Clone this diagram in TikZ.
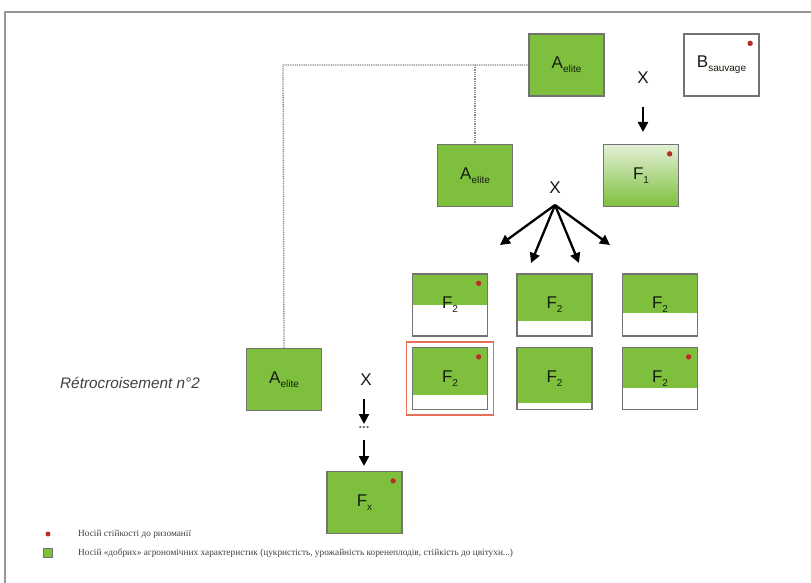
\documentclass[tikz,border=0pt]{standalone}
\usepackage{fontspec}
\setmainfont{Liberation Serif}
\newfontfamily\arial{Liberation Sans}
\usetikzlibrary{arrows.meta,calc,fit}
\definecolor{leaf}{RGB}{126,192,62}
\definecolor{leaflight}{RGB}{228,240,214}
\definecolor{dotred}{RGB}{185,45,40}
\definecolor{boxgray}{RGB}{115,115,115}
\definecolor{hilite}{RGB}{232,110,90}
\definecolor{txt}{RGB}{20,30,15}
\definecolor{framegray}{RGB}{150,150,150}
\definecolor{linkgray}{RGB}{140,140,140}
\newcommand{\lab}[2]{{\arial\fontsize{17}{17}\selectfont #1\raisebox{-4pt}{\fontsize{10}{10}\selectfont #2}}}
\newcommand{\rdot}[1]{\fill[dotred] ($(#1.north east)+(-9.5,10)$) circle (2.7pt);}
\begin{document}
\begin{tikzpicture}[x=1pt,y=-1pt,
  plant/.style={draw=boxgray,line width=1.3pt,minimum width=75pt,minimum height=62pt,inner sep=0pt,text=txt},
  greenbox/.style={plant,fill=leaf},
  whitebox/.style={plant,fill=white},
  part/.style={plant,fill=white,path picture={\fill[leaf] (path picture bounding box.north west) rectangle ($(path picture bounding box.north east)!#1!(path picture bounding box.south east)$);}},
  cross/.style={font=\arial\fontsize{17}{17}\selectfont,inner sep=1pt,text=black!90},
  arr/.style={line width=2.3pt,-{Triangle[length=10pt,width=10pt]}},
  link/.style={draw=linkgray,line width=1.3pt,dash pattern=on 1pt off 0.8pt},
  legend/.style={anchor=west,font=\fontsize{9.3}{10}\selectfont,text=black!75,inner sep=0pt}
]
\useasboundingbox (0,0) rectangle (811,583);
\fill[white] (0,0) rectangle (811,583);
\draw[framegray,line width=1.3pt] (5,583) -- (5,12) -- (811,12);

% parents
\node[greenbox] (atop) at (566.5,65) {\lab{A}{elite}};
\node[whitebox] (bsau) at (721.5,65) {\lab{B}{sauvage}};
\rdot{bsau}
\node[cross] (x1) at (643,78) {X};
\coordinate (x1s) at (643,107);
\coordinate (x1e) at (643,132);
\draw[arr] (x1s) -- (x1e);

% first generation
\node[greenbox] (amid) at (475,175.5) {\lab{A}{elite}};
\node[plant,top color=leaflight,bottom color=leaf] (f1) at (641,175.5) {\lab{F}{1}};
\rdot{f1}
\node[cross] (x2) at (555,188) {X};
\coordinate (x2s) at (555,205);
\coordinate (e1) at (500,245);
\coordinate (e2) at (531,263);
\coordinate (e3) at (579,263);
\coordinate (e4) at (610,245);
\draw[arr] (x2s) -- (e1);
\draw[arr] (x2s) -- (e2);
\draw[arr] (x2s) -- (e3);
\draw[arr] (x2s) -- (e4);

% F2 grid
\node[part=0.5]  (f11) at (450,305) {\lab{F}{2}};
\node[part=0.75] (f12) at (554.5,305) {\lab{F}{2}};
\node[part=0.63] (f13) at (660,305) {\lab{F}{2}};
\node[part=0.77] (f21) at (450,378.5) {\lab{F}{2}};
\node[part=0.9]  (f22) at (554.5,378.5) {\lab{F}{2}};
\node[part=0.66] (f23) at (660,378.5) {\lab{F}{2}};
\rdot{f11}
\rdot{f21}
\rdot{f23}
\node[draw=hilite,line width=1.5pt,fit=(f21),inner xsep=5.5pt,inner ysep=5pt] (sel) {};

% backcross
\node[greenbox] (abot) at (284,379.5) {\lab{A}{elite}};
\node[anchor=west,font=\arial\itshape\fontsize{15.3}{16}\selectfont,text=black!75,inner sep=0pt] (retro) at (60,383) {Rétrocroisement n°2};
\node[cross] (x3) at (366,380) {X};
\coordinate (x3s) at (364,399);
\coordinate (x3e) at (364,424);
\node[font=\arial\bfseries\fontsize{13}{13}\selectfont,text=black!60,inner sep=0pt] (dots) at (364,428) {...};
\coordinate (d1) at (364,440);
\node[greenbox] (fx) at (364.5,502.5) {\lab{F}{x}};
\rdot{fx}
\coordinate (fxe) at (364,466);
\draw[arr] (x3s) -- (x3e);
\draw[arr] (d1) -- (fxe);

% dotted links
\coordinate (corner) at (283,65);
\coordinate (branch) at (475,65);
\draw[link] (atop.west) -- (corner) -- (abot.north);
\draw[link] (branch) -- (amid.north);

% legend
\node[circle,fill=dotred,minimum size=5pt,inner sep=0pt] (lg1) at (48,534) {};
\node[legend] (lt1) at (78,534) {Носій стійкості до ризоманії};
\node[draw=boxgray,line width=0.6pt,fill=leaf,minimum size=9pt,inner sep=0pt] (lg2) at (48,553) {};
\node[legend] (lt2) at (78,553) {Носій «добрих» агрономічних характеристик (цукристість, урожайність коренеплодів, стійкість до цвітухи...)};
\end{tikzpicture}
\end{document}
